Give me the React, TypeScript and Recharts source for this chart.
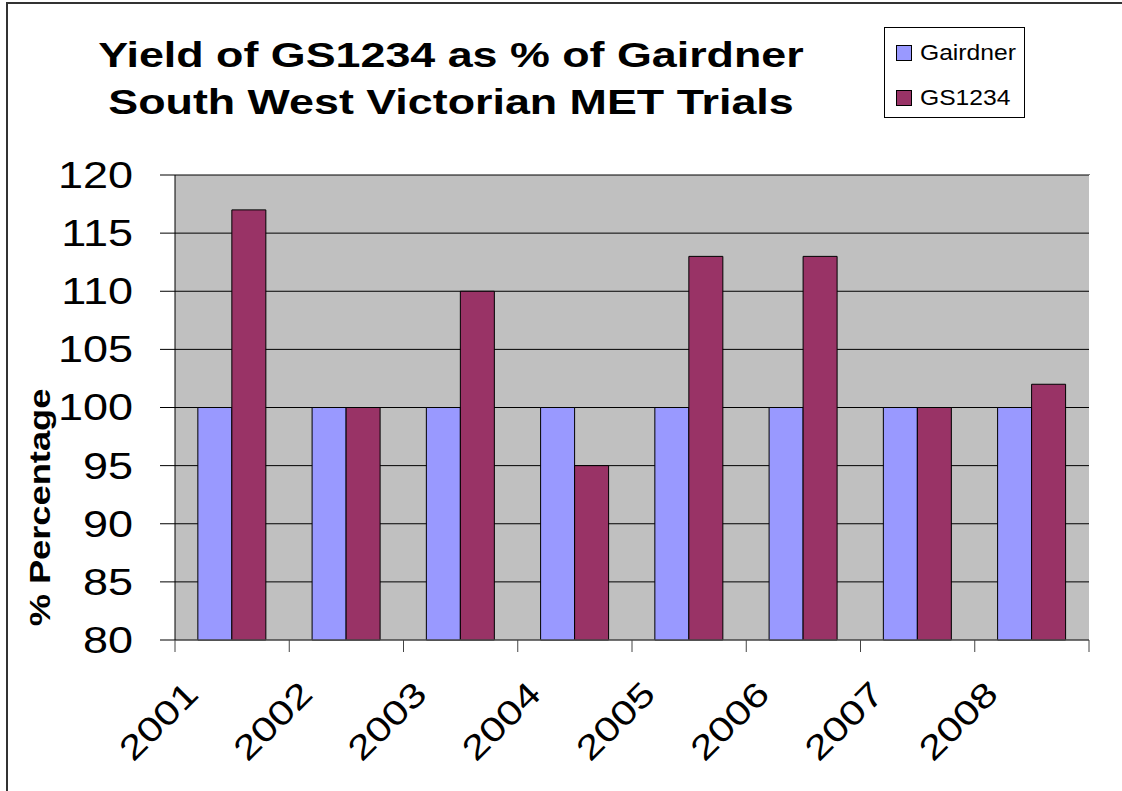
import { BarChart, Bar, XAxis, YAxis, CartesianGrid } from 'recharts'

const years = ['2001', '2002', '2003', '2004', '2005', '2006', '2007', '2008']
const gairdner = [100, 100, 100, 100, 100, 100, 100, 100]
const gs1234 = [117, 100, 110, 95, 113, 113, 100, 102]
const yTicks = [80, 85, 90, 95, 100, 105, 110, 115, 120]
const seriesNames = ['Gairdner', 'GS1234']
const seriesColors = ['#9999FF', '#993366']

const data = years.map((year, i) => ({ year, Gairdner: gairdner[i], GS1234: gs1234[i] }))

const FONT = 'Arial, "Liberation Sans", sans-serif'
// the source chart's text is drawn a bit wide
const STRETCH = 1.25

// year label plus the tick marks, which sit on the category edges
const YearTick = ({ x, y, payload, index, visibleTicksCount }: any) => {
  const half = payload.offset || 0
  const isLast = index === visibleTicksCount - 1
  return (
    <g>
      <line x1={x - half} x2={x - half} y1={y} y2={y + 12} stroke="#444" />
      {isLast && <line x1={x + half} x2={x + half} y1={y} y2={y + 12} stroke="#444" />}
      <g transform={`translate(${x - 32}, ${y + 56}) rotate(-45) scale(${STRETCH},1)`}>
        <text textAnchor="end" fontSize={34} fontFamily={FONT} fill="#000">
          {payload.value}
        </text>
      </g>
    </g>
  )
}

const ValueTick = ({ x, y, payload }: any) => (
  <g transform={`translate(${x}, ${y}) scale(${STRETCH},1)`}>
    <text textAnchor="end" dy="0.36em" fontSize={36} fontFamily={FONT} fill="#000">
      {payload.value}
    </text>
  </g>
)

const YLabel = ({ viewBox }: any) => {
  const cy = viewBox ? viewBox.y + viewBox.height / 2 : 507
  return (
    <g transform={`translate(50, ${cy + 100}) rotate(-90) scale(${STRETCH},1)`}>
      <text textAnchor="middle" fontSize={29} fontWeight="bold" fontFamily={FONT} fill="#000">
        % Percentage
      </text>
    </g>
  )
}

export default function App() {
  return (
    <div style={{ position: 'absolute', left: 0, top: 0, width: 1122, height: 791, background: '#fff' }}>
      <div
        style={{
          position: 'absolute',
          left: 6,
          top: 2,
          width: 1116,
          height: 789,
          borderTop: '2px solid #333',
          borderLeft: '2px solid #333',
          boxSizing: 'border-box',
        }}
      />
      <div
        style={{
          position: 'absolute',
          left: 0,
          top: 31,
          width: 902,
          textAlign: 'center',
          fontFamily: FONT,
          fontWeight: 'bold',
          fontSize: 35,
          lineHeight: '47px',
          color: '#000',
          transform: 'scaleX(1.28)',
          transformOrigin: '451px 0',
        }}
      >
        Yield of GS1234 as % of Gairdner
        <br />
        South West Victorian MET Trials
      </div>
      <div
        style={{
          position: 'absolute',
          left: 884,
          top: 27,
          width: 141,
          height: 91,
          border: '1px solid #000',
          boxSizing: 'border-box',
          background: '#fff',
          fontFamily: FONT,
          fontSize: 22,
          color: '#000',
        }}
      >
        {seriesNames.map((name, i) => (
          <div
            key={name}
            style={{
              position: 'absolute',
              left: 11,
              top: 13 + i * 45,
              height: 24,
              display: 'flex',
              alignItems: 'center',
            }}
          >
            <span
              style={{
                display: 'inline-block',
                width: 14,
                height: 14,
                background: seriesColors[i],
                border: '1px solid #000',
                marginRight: 8,
              }}
            />
            <span style={{ display: 'inline-block', transform: 'scaleX(1.12)', transformOrigin: '0 50%' }}>
              {name}
            </span>
          </div>
        ))}
      </div>
      <BarChart
        width={1122}
        height={791}
        data={data}
        margin={{ top: 175, right: 33, bottom: 0, left: 0 }}
        barCategoryGap="20%"
        barGap={0}
        style={{ position: 'absolute', left: 0, top: 0 }}
      >
        <CartesianGrid stroke="#000" vertical={false} fill="#C0C0C0" fillOpacity={1} />
        <XAxis
          dataKey="year"
          height={151}
          axisLine={{ stroke: '#666' }}
          tickLine={false}
          tickSize={0}
          tickMargin={0}
          tick={YearTick}
          interval={0}
        />
        <YAxis
          domain={[80, 120]}
          ticks={yTicks}
          width={175}
          tickSize={15}
          tickMargin={27}
          tick={ValueTick}
          axisLine={{ stroke: '#000' }}
          tickLine={{ stroke: '#000' }}
          label={YLabel}
        />
        {seriesNames.map((name, i) => (
          <Bar
            key={name}
            dataKey={name}
            fill={seriesColors[i]}
            stroke="#000"
            strokeWidth={1}
            isAnimationActive={false}
          />
        ))}
      </BarChart>
      <div
        style={{
          position: 'absolute',
          left: 174,
          top: 174,
          width: 916,
          height: 1,
          background: '#808080',
        }}
      />
    </div>
  )
}
